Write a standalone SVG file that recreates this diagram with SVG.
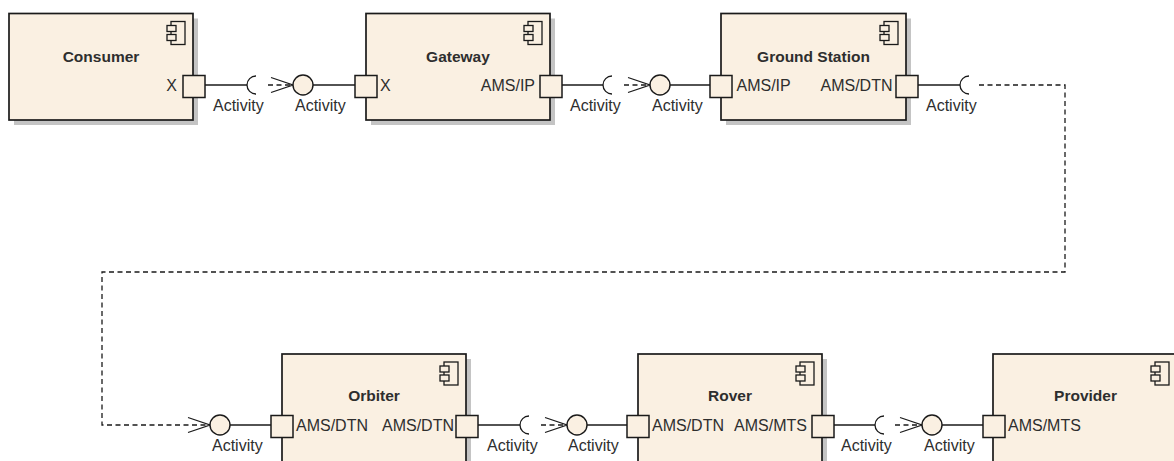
<svg xmlns="http://www.w3.org/2000/svg" width="1174" height="461" viewBox="0 0 1174 461">
<style>
.shadow{fill:#c4c4c4;stroke:none}
.box{fill:#faf0e2;stroke:#1a1a1a;stroke-width:1.7}
.port{fill:#faf0e2;stroke:#1a1a1a;stroke-width:1.5}
.icon{fill:#faf0e2;stroke:#1a1a1a;stroke-width:1.3}
.title{font-family:"Liberation Sans",Arial,sans-serif;font-size:15.5px;font-weight:bold;fill:#2e2e2e;text-anchor:middle}
.plbl{font-family:"Liberation Sans",Arial,sans-serif;font-size:16px;fill:#2e2e2e}
.end{text-anchor:end}
.lbl{font-family:"Liberation Sans",Arial,sans-serif;font-size:16px;fill:#2e2e2e}
.ln{fill:none;stroke:#1a1a1a;stroke-width:1.3}
.dash{fill:none;stroke:#1a1a1a;stroke-width:1.3;stroke-dasharray:5,3.5}
.lolli{fill:#faf0e2;stroke:#1a1a1a;stroke-width:1.4}
</style>
<defs>
<g id="cicon">
<rect class="icon" x="-22" y="8" width="14" height="23"/>
<rect class="icon" x="-26" y="12" width="9" height="6"/>
<rect class="icon" x="-26" y="21" width="9" height="6"/>
</g>
<marker id="open" markerUnits="userSpaceOnUse" markerWidth="26" markerHeight="20" refX="23" refY="8" orient="auto" overflow="visible">
<path d="M1,0.5 L23,8 L1,15.5" fill="none" stroke="#1a1a1a" stroke-width="1.3" stroke-dasharray="none"/>
</marker>
</defs>
<rect width="1174" height="461" fill="#ffffff"/>

<g id="consumer">
<rect class="shadow" x="14" y="18.5" width="184" height="106.5"/>
<rect class="box" x="9" y="13.5" width="184" height="106.5"/>
<use href="#cicon" x="193" y="13.5"/>
<text class="title" x="101" y="62">Consumer</text>
<rect class="port" x="183" y="75.5" width="22" height="22"/>
<text class="plbl end" x="177" y="90.5">X</text>
</g>

<g id="gateway">
<rect class="shadow" x="371" y="18.5" width="184" height="106.5"/>
<rect class="box" x="366" y="13.5" width="184" height="106.5"/>
<use href="#cicon" x="550" y="13.5"/>
<text class="title" x="458" y="62">Gateway</text>
<rect class="port" x="355" y="75.5" width="22" height="22"/>
<text class="plbl" x="380" y="90.5">X</text>
<rect class="port" x="540" y="75.5" width="22" height="22"/>
<text class="plbl end" x="535" y="90.5">AMS/IP</text>
</g>

<g id="ground-station">
<rect class="shadow" x="726" y="18.5" width="185" height="106.5"/>
<rect class="box" x="721" y="13.5" width="185" height="106.5"/>
<use href="#cicon" x="906" y="13.5"/>
<text class="title" x="813.5" y="62">Ground Station</text>
<rect class="port" x="710" y="75.5" width="22" height="22"/>
<text class="plbl" x="736.5" y="90.5">AMS/IP</text>
<rect class="port" x="896" y="75.5" width="22" height="22"/>
<text class="plbl end" x="892.5" y="90.5">AMS/DTN</text>
</g>

<g id="orbiter">
<rect class="shadow" x="287" y="359" width="184" height="120"/>
<rect class="box" x="282" y="354" width="184" height="120"/>
<use href="#cicon" x="466" y="354"/>
<text class="title" x="374" y="401">Orbiter</text>
<rect class="port" x="271" y="415.5" width="22" height="22"/>
<text class="plbl" x="296" y="430.5">AMS/DTN</text>
<rect class="port" x="456" y="415.5" width="22" height="22"/>
<text class="plbl end" x="454" y="430.5">AMS/DTN</text>
</g>

<g id="rover">
<rect class="shadow" x="643" y="359" width="184" height="120"/>
<rect class="box" x="638" y="354" width="184" height="120"/>
<use href="#cicon" x="822" y="354"/>
<text class="title" x="730" y="401">Rover</text>
<rect class="port" x="627" y="415.5" width="22" height="22"/>
<text class="plbl" x="652" y="430.5">AMS/DTN</text>
<rect class="port" x="812" y="415.5" width="22" height="22"/>
<text class="plbl end" x="807" y="430.5">AMS/MTS</text>
</g>

<g id="provider">
<rect class="shadow" x="998" y="359" width="184" height="120"/>
<rect class="box" x="993" y="354" width="184" height="120"/>
<use href="#cicon" x="1177" y="354"/>
<text class="title" x="1085.5" y="401">Provider</text>
<rect class="port" x="983" y="415.5" width="22" height="22"/>
<text class="plbl" x="1008" y="430.5">AMS/MTS</text>
</g>

<g id="connectors">
<!-- Consumer -> Gateway -->
<path class="ln" d="M205,85 H247"/>
<path class="ln" d="M256,76 A9,9 0 0 0 256,94"/>
<path class="dash" d="M268,85 H293" marker-end="url(#open)"/>
<circle class="lolli" cx="303" cy="85" r="10"/>
<path class="ln" d="M313,85 H355"/>
<text class="lbl" x="213" y="111">Activity</text>
<text class="lbl" x="295" y="111">Activity</text>

<!-- Gateway -> Ground Station -->
<path class="ln" d="M562,85 H603"/>
<path class="ln" d="M612,76 A9,9 0 0 0 612,94"/>
<path class="dash" d="M624,85 H650" marker-end="url(#open)"/>
<circle class="lolli" cx="660" cy="85" r="10"/>
<path class="ln" d="M670,85 H710"/>
<text class="lbl" x="570" y="111">Activity</text>
<text class="lbl" x="652" y="111">Activity</text>

<!-- Ground Station -> Orbiter -->
<path class="ln" d="M918,85 H960"/>
<path class="ln" d="M969,76 A9,9 0 0 0 969,94"/>
<path class="dash" d="M979,85 H1065 V272 H102 V425 H210" marker-end="url(#open)"/>
<circle class="lolli" cx="220" cy="425" r="10"/>
<path class="ln" d="M230,425 H271"/>
<text class="lbl" x="926" y="111">Activity</text>
<text class="lbl" x="212" y="451">Activity</text>

<!-- Orbiter -> Rover -->
<path class="ln" d="M478,425 H520"/>
<path class="ln" d="M529,416 A9,9 0 0 0 529,434"/>
<path class="dash" d="M541,425 H567" marker-end="url(#open)"/>
<circle class="lolli" cx="577" cy="425" r="10"/>
<path class="ln" d="M587,425 H627"/>
<text class="lbl" x="487" y="451">Activity</text>
<text class="lbl" x="568" y="451">Activity</text>

<!-- Rover -> Provider -->
<path class="ln" d="M834,425 H875"/>
<path class="ln" d="M884,416 A9,9 0 0 0 884,434"/>
<path class="dash" d="M895,425 H922" marker-end="url(#open)"/>
<circle class="lolli" cx="932" cy="425" r="10"/>
<path class="ln" d="M942,425 H983"/>
<text class="lbl" x="841" y="451">Activity</text>
<text class="lbl" x="924" y="451">Activity</text>
</g>
</svg>
